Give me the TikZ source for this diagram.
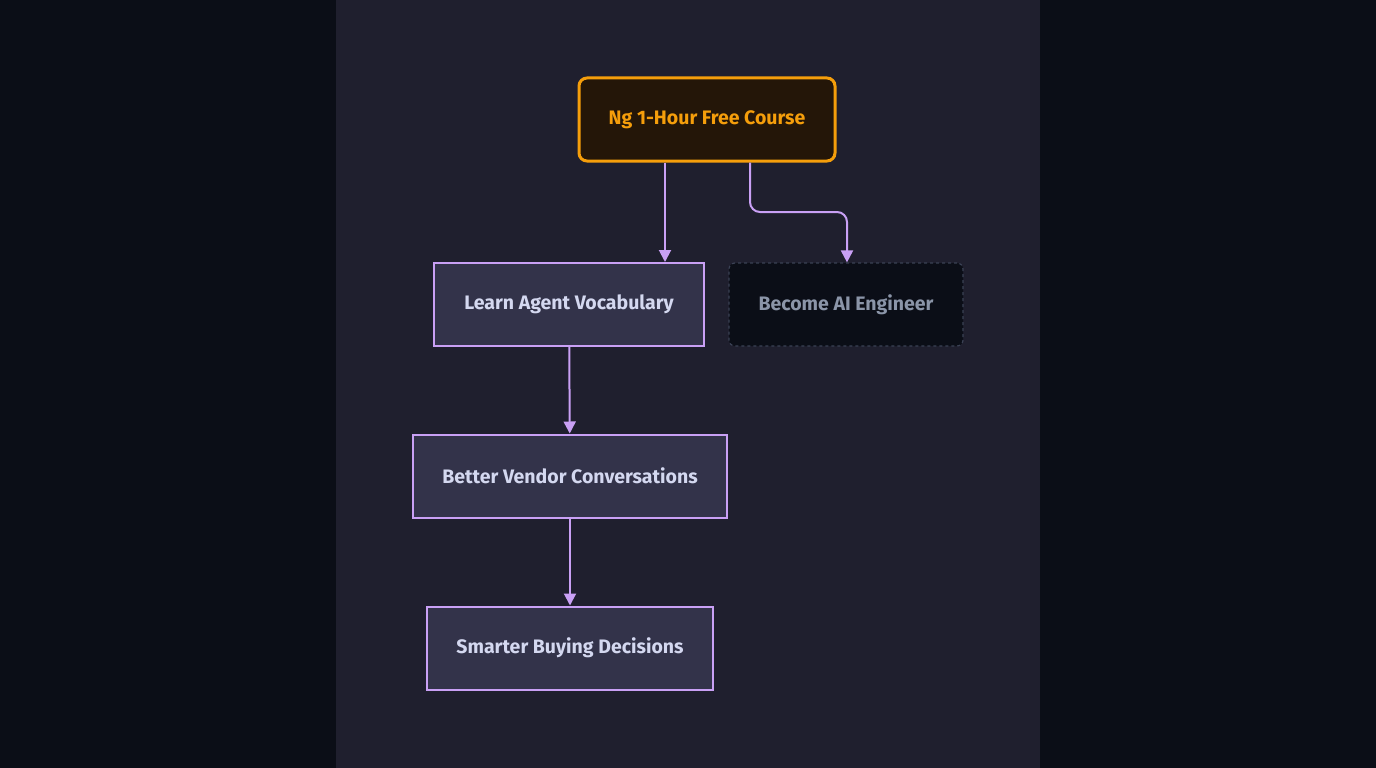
\documentclass[tikz,border=0pt]{standalone}
\usepackage{fontspec}
\setmainfont{Fira Sans}
\usetikzlibrary{positioning,arrows.meta}
\definecolor{outerbg}{HTML}{0B0E17}
\definecolor{panelbg}{HTML}{1F1F2E}
\definecolor{boxfill}{HTML}{33334A}
\definecolor{boxline}{HTML}{C9A0F5}
\definecolor{boxtext}{HTML}{D4D8F0}
\definecolor{startline}{HTML}{F59E0B}
\definecolor{startfill}{HTML}{241608}
\definecolor{ghostline}{HTML}{3A4154}
\definecolor{ghosttext}{HTML}{8B95A8}
\tikzset{
	stage/.style={draw=boxline, fill=boxfill, line width=2pt, text=boxtext, font=\bfseries\fontsize{19.5}{22}\selectfont, minimum height=83pt, inner xsep=0pt},
	start/.style={draw=startline, fill=startfill, line width=3pt, rounded corners=8pt, text=startline, font=\bfseries\fontsize{19.5}{22}\selectfont, minimum height=83pt, minimum width=256pt},
	ghost/.style={draw=ghostline, fill=outerbg, dashed, line width=1.2pt, rounded corners=6pt, text=ghosttext, font=\bfseries\fontsize{19.5}{22}\selectfont, minimum height=83pt, minimum width=234pt},
	link/.style={draw=boxline, line width=2pt, -{Triangle[length=12pt,width=12pt]}}
}
\begin{document}
\begin{tikzpicture}[x=1pt, y=-1pt]
	\fill[outerbg] (0,0) rectangle (1376,768);
	\fill[panelbg] (336,0) rectangle (1040,768);
	\useasboundingbox (0,0) rectangle (1376,768);
	% nodes
	\node[start] (course) at (707, 119.5) {Ng 1-Hour Free Course};
	\node[stage, minimum width=270pt] (vocab) at (569, 304.5) {Learn Agent Vocabulary};
	\node[ghost] (engineer) at (846, 304.5) {Become AI Engineer};
	\node[stage, minimum width=314pt] (vendor) at (570, 476) {Better Vendor Conversations};
	\node[stage, minimum width=286pt] (buying) at (570, 648) {Smarter Buying Decisions};
	% edges
	\draw[link] (course.south -| 665,0) -- (vocab.north -| 665,0);
	\draw[link, rounded corners=10pt] (course.south -| 750,0) -- (750,212) -- (847,212) -- (engineer.north -| 847,0);
	\draw[link] (vocab) -- (vendor);
	\draw[link] (vendor) -- (buying);
\end{tikzpicture}
\end{document}
